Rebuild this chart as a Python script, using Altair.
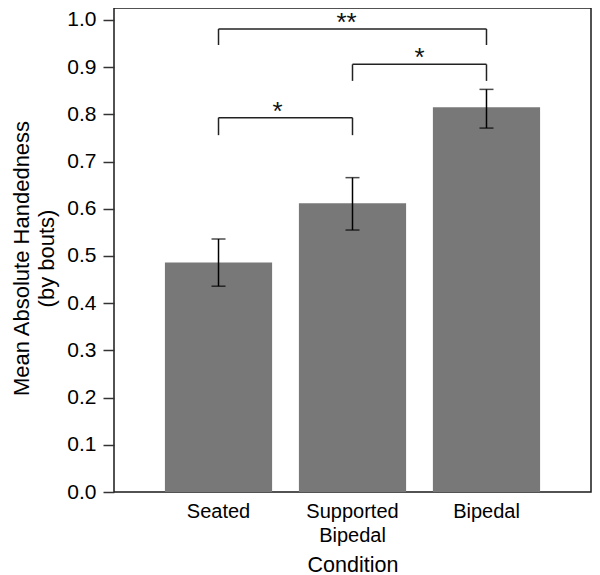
import altair as alt
import pandas as pd

# ---- data ----
conditions = ["Seated", "Supported Bipedal", "Bipedal"]
means = [0.486, 0.612, 0.815]
err_low = [0.436, 0.555, 0.771]
err_high = [0.536, 0.666, 0.853]

br_from = ["Seated", "Supported Bipedal", "Seated"]
br_to = ["Supported Bipedal", "Bipedal", "Bipedal"]
br_top = [0.793, 0.906, 0.981]
br_bottom = [0.756, 0.871, 0.947]
br_label = ["*", "*", "**"]

y_ticks = [0.0, 0.1, 0.2, 0.3, 0.4, 0.5, 0.6, 0.7, 0.8, 0.9, 1.0]

# ---- layout constants ----
W, H = 477, 484
STEP = 134
FONT = "Liberation Sans"
label_dx_adjust = [-8, 0, -6]

bars = pd.DataFrame({"cond": conditions, "mean": means, "lo": err_low, "hi": err_high})
brackets = pd.DataFrame({"f": br_from, "t": br_to, "top": br_top, "bot": br_bottom, "lab": br_label})

xscale = alt.Scale(domain=conditions, paddingInner=0.2, paddingOuter=0.38)
yscale = alt.Scale(domain=[0, 1.0254], nice=False, zero=True)

x_axis = alt.Axis(
    title="Condition", labelAngle=0, ticks=False, domain=False, labelPadding=9,
    labelFontSize=20, labelLineHeight=24, labelBaseline="top", labelColor="black",
    labelExpr="datum.label == 'Supported Bipedal' ? ['Supported', 'Bipedal'] : datum.label",
    titleFontSize=21.5, titleFontWeight="normal", titleColor="black",
    titleY=79, titleBaseline="alphabetic",
)
y_axis = alt.Axis(
    title=["Mean Absolute Handedness", "(by bouts)"], values=y_ticks, format=".1f",
    grid=False, domain=False, tickSize=11, tickWidth=1.5, tickColor="#333",
    labelPadding=7, labelFontSize=21, labelColor="black",
    titleFontSize=22, titleFontWeight="normal", titleColor="black",
    titleAngle=270, titleX=-86, titleY=250, titleAlign="center",
    titleBaseline="alphabetic", titleLineHeight=25,
)

base = alt.Chart(bars)
bar = base.mark_bar(color="#787878").encode(
    x=alt.X("cond:N", scale=xscale, axis=x_axis, sort=conditions),
    y=alt.Y("mean:Q", scale=yscale, axis=y_axis),
)
err = base.mark_rule(color="black", strokeWidth=1.5).encode(
    x=alt.X("cond:N", scale=xscale, sort=conditions),
    y=alt.Y("lo:Q", scale=yscale),
    y2="hi:Q",
)
cap_lo = base.mark_tick(color="black", size=14, thickness=1.5, orient="horizontal").encode(
    x=alt.X("cond:N", scale=xscale, sort=conditions),
    y=alt.Y("lo:Q", scale=yscale),
)
cap_hi = base.mark_tick(color="black", size=14, thickness=1.5, orient="horizontal").encode(
    x=alt.X("cond:N", scale=xscale, sort=conditions),
    y=alt.Y("hi:Q", scale=yscale),
)

bb = alt.Chart(brackets)
br_h = bb.mark_rule(color="#222", strokeWidth=1.5).encode(
    x=alt.X("f:N", scale=xscale, sort=conditions),
    x2="t:N",
    y=alt.Y("top:Q", scale=yscale),
)
br_l = bb.mark_rule(color="#222", strokeWidth=1.5).encode(
    x=alt.X("f:N", scale=xscale, sort=conditions),
    y=alt.Y("top:Q", scale=yscale),
    y2="bot:Q",
)
br_r = bb.mark_rule(color="#222", strokeWidth=1.5).encode(
    x=alt.X("t:N", scale=xscale, sort=conditions),
    y=alt.Y("top:Q", scale=yscale),
    y2="bot:Q",
)

layers = [bar, err, cap_lo, cap_hi, br_h, br_l, br_r]
for i in range(len(br_label)):
    row = brackets.iloc[[i]]
    span = conditions.index(br_to[i]) - conditions.index(br_from[i])
    txt = alt.Chart(row).mark_text(
        fontSize=26, font=FONT, color="#111", baseline="alphabetic", align="center",
        dx=span * STEP / 2 + label_dx_adjust[i], dy=2,
    ).encode(
        x=alt.X("f:N", scale=xscale, sort=conditions),
        y=alt.Y("top:Q", scale=yscale),
        text="lab:N",
    )
    layers.append(txt)

chart = alt.layer(*layers).properties(
    width=W, height=H,
    autosize=alt.AutoSizeParams(type="none"),
    padding={"left": 106, "top": 0, "right": 1, "bottom": 83},
).configure(font=FONT).configure_view(stroke="#1a1a1a", strokeWidth=1.5)

chart.save("out.html", embed_options={"renderer": "svg", "actions": False})
